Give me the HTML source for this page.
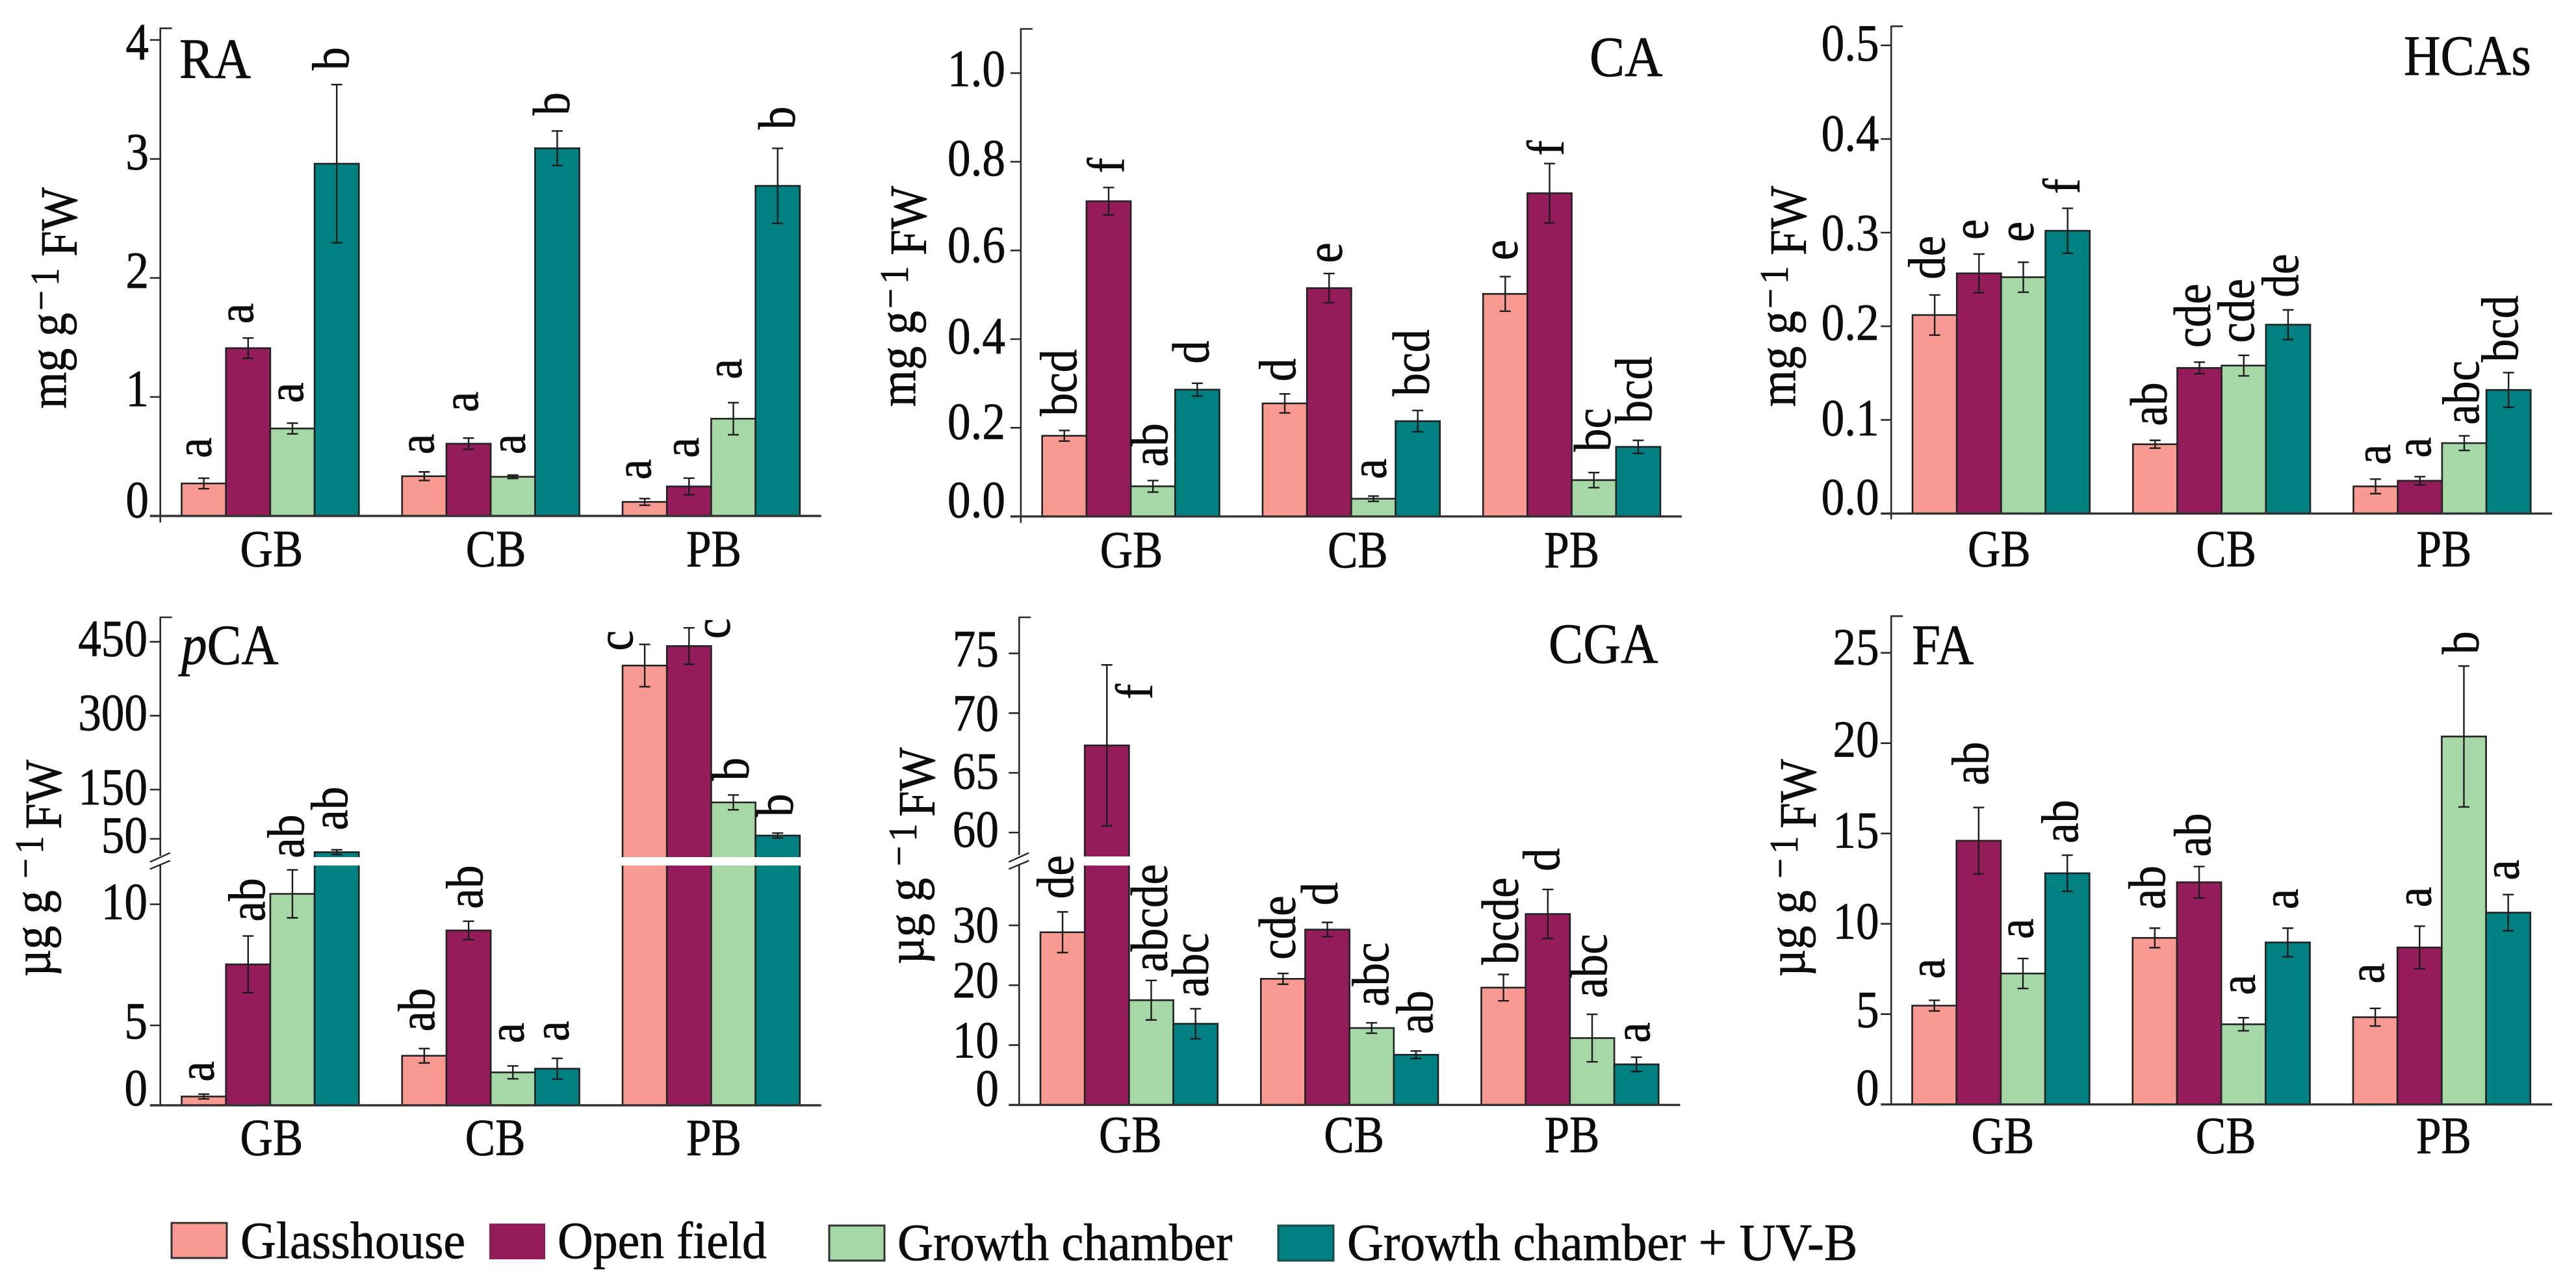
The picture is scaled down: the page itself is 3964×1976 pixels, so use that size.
<!DOCTYPE html>
<html lang="en">
<head>
<meta charset="utf-8">
<title>Phenolic acid content by treatment</title>
<style>
html,body{margin:0;padding:0;background:#fff;}
svg{display:block;}
text{font-family:"Liberation Serif",serif;fill:#0c0c0c;stroke:#0c0c0c;stroke-width:.7px;}
</style>
</head>
<body>
<svg id="figure" xmlns="http://www.w3.org/2000/svg" width="3964" height="1976" viewBox="0 0 3964 1976">
<rect width="3964" height="1976" fill="#fff"/>
<g id="marks"></g>

<!-- panel titles -->
<g font-size="88">
<text transform="translate(276,120) scale(.9,1)">RA</text>
<text transform="translate(2446,117) scale(.92,1)">CA</text>
<text transform="translate(3699,115) scale(.89,1)">HCAs</text>
<text transform="translate(279,1022) scale(.9,1)"><tspan font-style="italic">p</tspan>CA</text>
<text transform="translate(2383,1020) scale(.907,1)">CGA</text>
<text transform="translate(2942,1022) scale(.9,1)">FA</text>
</g>

<!-- y-axis titles -->
<g font-size="80">
<g>
<text transform="translate(101,629) rotate(-90) scale(.91,1)">mg g</text>
<text font-size="62" transform="translate(84,478) rotate(-90) scale(.89,1)">&#8722;</text>
<text font-size="62" transform="translate(90,440) rotate(-90) scale(.89,1)">1</text>
<text transform="translate(118,395) rotate(-90) scale(.89,1)">FW</text>
</g>
<g>
<text transform="translate(1408,626) rotate(-90) scale(.91,1)">mg g</text>
<text font-size="62" transform="translate(1391,475) rotate(-90) scale(.89,1)">&#8722;</text>
<text font-size="62" transform="translate(1397,437) rotate(-90) scale(.89,1)">1</text>
<text transform="translate(1425,393) rotate(-90) scale(.89,1)">FW</text>
</g>
<g>
<text transform="translate(2762,626) rotate(-90) scale(.91,1)">mg g</text>
<text font-size="62" transform="translate(2745,475) rotate(-90) scale(.89,1)">&#8722;</text>
<text font-size="62" transform="translate(2751,437) rotate(-90) scale(.89,1)">1</text>
<text transform="translate(2779,393) rotate(-90) scale(.89,1)">FW</text>
</g>
<g>
<text transform="translate(77,1503) rotate(-90) scale(.91,1)">&#181;g g</text>
<text font-size="62" transform="translate(60,1352) rotate(-90) scale(.89,1)">&#8722;</text>
<text font-size="62" transform="translate(66,1314) rotate(-90) scale(.89,1)">1</text>
<text transform="translate(94,1276) rotate(-90) scale(.89,1)">FW</text>
</g>
<g>
<text transform="translate(1421,1484) rotate(-90) scale(.91,1)">&#181;g g</text>
<text font-size="62" transform="translate(1404,1333) rotate(-90) scale(.89,1)">&#8722;</text>
<text font-size="62" transform="translate(1410,1295) rotate(-90) scale(.89,1)">1</text>
<text transform="translate(1438,1257) rotate(-90) scale(.89,1)">FW</text>
</g>
<g>
<text transform="translate(2777,1503) rotate(-90) scale(.91,1)">&#181;g g</text>
<text font-size="62" transform="translate(2760,1352) rotate(-90) scale(.89,1)">&#8722;</text>
<text font-size="62" transform="translate(2766,1314) rotate(-90) scale(.89,1)">1</text>
<text transform="translate(2794,1275) rotate(-90) scale(.89,1)">FW</text>
</g>
</g>

<!-- legend -->
<g font-size="80">
<g>
<rect x="264" y="1882" width="85" height="54" fill="#F89A92" stroke="#333" stroke-width="3"/>
<text transform="translate(370,1936) scale(.95,1)">Glasshouse</text>
</g>
<g>
<rect x="753" y="1883" width="86" height="55" fill="#951C5B"/>
<text transform="translate(858,1936) scale(.947,1)">Open field</text>
</g>
<g>
<rect x="1276" y="1886" width="85" height="54" fill="#A6D7A6" stroke="#333" stroke-width="3"/>
<text transform="translate(1381,1939) scale(.955,1)">Growth chamber</text>
</g>
<g>
<rect x="1967" y="1886" width="85" height="54" fill="#008080" stroke="#1d4a4a" stroke-width="3"/>
<text transform="translate(2073,1939) scale(.966,1)">Growth chamber + UV-B</text>
</g>
</g>
</svg>

<script>
// Shared categories and series (each flat panel array runs GB x 4 series, CB x 4, PB x 4)
const categories = ['GB', 'CB', 'PB'];
const seriesKeys = ['glasshouse', 'open-field', 'growth-chamber', 'growth-chamber-uvb'];

// RA
const raMeans = [0.273, 1.41, 0.735, 2.96, 0.334, 0.607, 0.329, 3.09, 0.118, 0.248, 0.817, 2.774];
const raErrors = [0.044, 0.085, 0.045, 0.665, 0.036, 0.047, 0.014, 0.145, 0.028, 0.07, 0.135, 0.315];
const raLetters = ['a', 'a', 'a', 'b', 'a', 'a', 'a', 'b', 'a', 'a', 'a', 'b'];
const raTicks = [0, 1, 2, 3, 4];
const raTickLabels = ['0', '1', '2', '3', '4'];

// CA
const caMeans = [0.182, 0.711, 0.068, 0.286, 0.255, 0.515, 0.04, 0.215, 0.502, 0.729, 0.082, 0.157];
const caErrors = [0.012, 0.031, 0.013, 0.0145, 0.0215, 0.033, 0.006, 0.024, 0.039, 0.067, 0.017, 0.0147];
const caLetters = ['bcd', 'f', 'ab', 'd', 'd', 'e', 'a', 'bcd', 'e', 'f', 'bc', 'bcd'];
const caTicks = [0, 0.2, 0.4, 0.6, 0.8, 1.0];
const caTickLabels = ['0.0', '0.2', '0.4', '0.6', '0.8', '1.0'];

// HCAs
const hcasMeans = [0.212, 0.2565, 0.2524, 0.302, 0.074, 0.1555, 0.158, 0.2017, 0.029, 0.035, 0.0752, 0.132];
const hcasErrors = [0.0214, 0.0206, 0.016, 0.024, 0.0042, 0.0062, 0.011, 0.0158, 0.0078, 0.0044, 0.0078, 0.0185];
const hcasLetters = ['de', 'e', 'e', 'f', 'ab', 'cde', 'cde', 'de', 'a', 'a', 'abc', 'bcd'];
const hcasTicks = [0, 0.1, 0.2, 0.3, 0.4, 0.5];
const hcasTickLabels = ['0.0', '0.1', '0.2', '0.3', '0.4', '0.5'];

// pCA
const pcaMeans = [0.55, 7.52, 10.43, 23, 3.1, 8.92, 2.06, 2.29, 401.8, 441.4, 124, 56.7];
const pcaErrors = [0.15, 1.17, 0.99, 4.8, 0.45, 0.38, 0.4, 0.65, 43, 37, 15, 5];
const pcaLetters = ['a', 'ab', 'ab', 'ab', 'ab', 'ab', 'a', 'a', 'c', 'c', 'b', 'b'];
const pcaTicks = [0, 5, 10, 50, 150, 300, 450];
const pcaTickLabels = ['0', '5', '10', '50', '150', '300', '450'];

// CGA
const cgaMeans = [28.85, 67.3, 17.5, 13.56, 21.07, 29.3, 12.85, 8.38, 19.6, 31.9, 11.17, 6.78];
const cgaErrors = [3.4, 6.74, 3.3, 2.5, 0.9, 1.2, 0.87, 0.63, 2.2, 4.1, 3.97, 1.2];
const cgaLetters = ['de', 'f', 'abcde', 'abc', 'cde', 'd', 'abc', 'ab', 'bcde', 'd', 'abc', 'a'];
const cgaTicks = [0, 10, 20, 30, 60, 65, 70, 75];
const cgaTickLabels = ['0', '10', '20', '30', '60', '65', '70', '75'];

// FA
const faMeans = [5.47, 14.6, 7.25, 12.8, 9.22, 12.3, 4.44, 8.97, 4.83, 8.69, 20.37, 10.62];
const faErrors = [0.295, 1.84, 0.83, 1.0, 0.54, 0.87, 0.36, 0.79, 0.49, 1.18, 3.9, 1.0];
const faLetters = ['a', 'ab', 'a', 'ab', 'ab', 'ab', 'a', 'a', 'a', 'a', 'b', 'a'];
const faTicks = [0, 5, 10, 15, 20, 25];
const faTickLabels = ['0', '5', '10', '15', '20', '25'];

// Layout only: axis calibration, and hand-placement offsets for labels
const fills = ['#F89A92', '#951C5B', '#A6D7A6', '#008080'];
const panels = [
  { key: 'ra', means: raMeans, errors: raErrors, letters: raLetters, ticks: raTicks, tickLabels: raTickLabels,
    axisX: 246.7, top: 43.6, ext: 10, barX: 279.5, scaleD: [0, 4], scaleR: [794, 61.5],
    labelRight: 229, labelDy: [2, 14, 15, 16, 30], catY: 871.5, catDx: [2, 8, 4],
    nudge: [[-4, -9], [-8, 0], [1, -9], [3, 0], [-1, -5], [-1, -18], [3, -10], [3, -2], [-6, -7], [-1, -9], [-3, -14], [11, -7]] },
  { key: 'ca', means: caMeans, errors: caErrors, letters: caLetters, ticks: caTicks, tickLabels: caTickLabels,
    axisX: 1570.9, top: 44.5, ext: 10, barX: 1603.7, scaleD: [0, 1], scaleR: [794.8, 112.5],
    labelRight: 1547, labelDy: [1, 17, 22, 18, 21, 20], catY: 873, catDx: [1, 10, 0],
    nudge: [[3, 0], [8, 0], [7, 1], [2, -8], [1, 3], [4, 6], [4, -4], [2, 0], [3, -3], [6, 10], [10, -10], [5, -4]] },
  { key: 'hcas', means: hcasMeans, errors: hcasErrors, letters: hcasLetters, ticks: hcasTicks, tickLabels: hcasTickLabels,
    axisX: 2910.2, top: 40.4, ext: 9, barX: 2943, scaleD: [0, 0.5], scaleR: [790.3, 69.8],
    labelRight: 2891.6, labelDy: [1, 24, 21, 27, 18, 23], catY: 871.5, catDx: [-3, 7, 3],
    nudge: [[0, -2], [-2, 0], [0, -9], [3, 0], [2, 0], [1, 0], [0, 3], [0, 3], [7, 0], [1, -7], [7, 5], [-1, 6]] },
  { key: 'pca', means: pcaMeans, errors: pcaErrors, letters: pcaLetters, ticks: pcaTicks, tickLabels: pcaTickLabels,
    axisX: 246.7, top: 950, ext: 0, barX: 279.5, scaleD: [0, 5, 11.6, 13, 450], scaleR: [1701, 1578, 1332, 1319, 987.7],
    gap: [11.6, 13], labelRight: 227, labelDy: [0, 20, 23, 21, 23, 22, 22], catY: 1777.6, catDx: [2, 7, 4],
    nudge: [[0, 3], [10, 0], [2, 4], [1, -8], [0, -4], [6, 3], [1, -13], [2, -4], [-34, 32], [47, 39], [8, 0], [8, -3]] },
  { key: 'cga', means: cgaMeans, errors: cgaErrors, letters: cgaLetters, ticks: cgaTicks, tickLabels: cgaTickLabels,
    axisX: 1568.3, top: 950, ext: 0, barX: 1601, scaleD: [0, 40, 58, 75], scaleR: [1700.4, 1332, 1318, 1005.6],
    gap: [40, 58], labelRight: 1537, labelDy: [1, 19, 19, 26, 21.6, 24, 27, 20], catY: 1772.8, catDx: [2, 7, 3],
    nudge: [[1, 2], [54, 75], [9, 9], [4, 4], [3, 1], [0, -4], [10, -3], [10, -4], [7, 7], [2, -6], [7, -3], [5, 0]] },
  { key: 'fa', means: faMeans, errors: faErrors, letters: faLetters, ticks: faTicks, tickLabels: faTickLabels,
    axisX: 2910.2, top: 948.2, ext: 0, barX: 2942.5, scaleD: [0, 25], scaleR: [1699.7, 1004.7],
    labelRight: 2891.6, labelDy: [1, 20, 23, 22, 21, 18], catY: 1774.6, catDx: [3, 7, 3],
    nudge: [[0, -11], [-1, -12], [0, -8], [1, 4], [0, -7], [2, 7], [2, -13], [0, -7], [-2, -16], [2, -7], [7, 4], [1, 0]] }
];
const BAR_W = 68.2;
const GROUP_PITCH = 339.25;
const CAP_HALF = 8.5;
const INK = '#2a2a2a';
const NS = 'http://www.w3.org/2000/svg';
const root = document.getElementById('marks');

function svgEl(tag, attrs, parent) {
  const el = document.createElementNS(NS, tag);
  for (const k in attrs) el.setAttribute(k, attrs[k]);
  parent.appendChild(el);
  return el;
}

// Piecewise-linear value axis
function yScale(p, v) {
  const d = p.scaleD, r = p.scaleR;
  let i = 0;
  while (i < d.length - 2 && v > d[i + 1]) i++;
  return r[i] + (v - d[i]) / (d[i + 1] - d[i]) * (r[i + 1] - r[i]);
}
function xBar(p, group, series) {
  return p.barX + group * GROUP_PITCH + series * BAR_W;
}

panels.forEach(function (p) {
  const g = svgEl('g', {}, root);
  
  
  const base = yScale(p, 0);

  // bars first, then baseline and error bars on top
  for (let i = 0; i < p.means.length; i++) {
    const group = Math.floor(i / 4), series = i % 4;
    const x = xBar(p, group, series);
    const top = yScale(p, p.means[i]);
    const bar = svgEl('rect', { x: x, y: top, width: BAR_W, height: base - top, fill: fills[series], stroke: '#222', 'stroke-width': 2.6 }, g);
    
    
    if (p.gap && p.means[i] > p.gap[1]) {
      const gy1 = yScale(p, p.gap[1]), gy0 = yScale(p, p.gap[0]);
      const cut = svgEl('rect', { x: x - 2, y: gy1, width: BAR_W + 4, height: gy0 - gy1, fill: '#fff' }, g);
      
      
    }
  }

  // axis
  if (p.gap) {
    const a1 = svgEl('line', { x1: p.axisX, x2: p.axisX, y1: p.top, y2: yScale(p, p.gap[1]) - 2, stroke: INK, 'stroke-width': 2.6 }, g);
    
    
    const a2 = svgEl('line', { x1: p.axisX, x2: p.axisX, y1: yScale(p, p.gap[0]) - 1, y2: base, stroke: INK, 'stroke-width': 2.6 }, g);
    
    
    const b1 = svgEl('line', { x1: p.axisX - 16, x2: p.axisX + 15, y1: 1326.5, y2: 1312.5, stroke: INK, 'stroke-width': 2.4 }, g);
    
    
    const b2 = svgEl('line', { x1: p.axisX - 16, x2: p.axisX + 15, y1: 1337.5, y2: 1324.5, stroke: INK, 'stroke-width': 2.4 }, g);
    
    
  } else {
    const a = svgEl('line', { x1: p.axisX, x2: p.axisX, y1: p.top, y2: base + p.ext, stroke: INK, 'stroke-width': 2.6 }, g);
    
    
  }
  const cap = svgEl('line', { x1: p.axisX - 1, x2: p.axisX + 18, y1: p.top, y2: p.top, stroke: INK, 'stroke-width': 2.6 }, g);
  
  
  const baseline = svgEl('line', { x1: p.axisX - 16, x2: p.axisX + 1017, y1: base, y2: base, stroke: '#333', 'stroke-width': 3.4 }, g);
  
  

  // ticks and tick labels
  p.ticks.forEach(function (t, k) {
    const y = yScale(p, t);
    if (k > 0) {
      const tick = svgEl('line', { x1: p.axisX - 16, x2: p.axisX, y1: y, y2: y, stroke: INK, 'stroke-width': 2.6 }, g);
      
      
    }
    const label = svgEl('text', { 'font-size': 80, 'text-anchor': 'end', transform: 'translate(' + p.labelRight + ',' + (y + p.labelDy[k]) + ') scale(.89,1)' }, g);
    label.textContent = p.tickLabels[k];
    
    
  });

  // category labels
  categories.forEach(function (c, k) {
    const cx = p.barX + k * GROUP_PITCH + 2 * BAR_W + p.catDx[k];
    const label = svgEl('text', { 'font-size': 80, 'text-anchor': 'middle', transform: 'translate(' + cx + ',' + p.catY + ') scale(.87,1)' }, g);
    label.textContent = c;
    
    
  });

  // error bars and significance letters
  for (let i = 0; i < p.means.length; i++) {
    const group = Math.floor(i / 4), series = i % 4;
    const cx = xBar(p, group, series) + BAR_W / 2;
    const yHi = yScale(p, p.means[i] + p.errors[i]);
    const yLo = yScale(p, p.means[i] - p.errors[i]);
    const err = svgEl('path', {
      d: 'M' + cx + ' ' + yHi + 'V' + yLo + 'M' + (cx - CAP_HALF) + ' ' + yHi + 'H' + (cx + CAP_HALF) + 'M' + (cx - CAP_HALF) + ' ' + yLo + 'H' + (cx + CAP_HALF),
      fill: 'none', stroke: '#1c1c1c', 'stroke-width': 2.4
    }, g);
    
    

    const lx = cx + 15 + p.nudge[i][0];
    const ly = yHi - 22 + p.nudge[i][1];
    const letter = svgEl('text', { 'font-size': 80, transform: 'translate(' + lx + ',' + ly + ') rotate(-90) scale(.89,1)' }, g);
    letter.textContent = p.letters[i];
    
    
  }
});
</script>
</body>
</html>
